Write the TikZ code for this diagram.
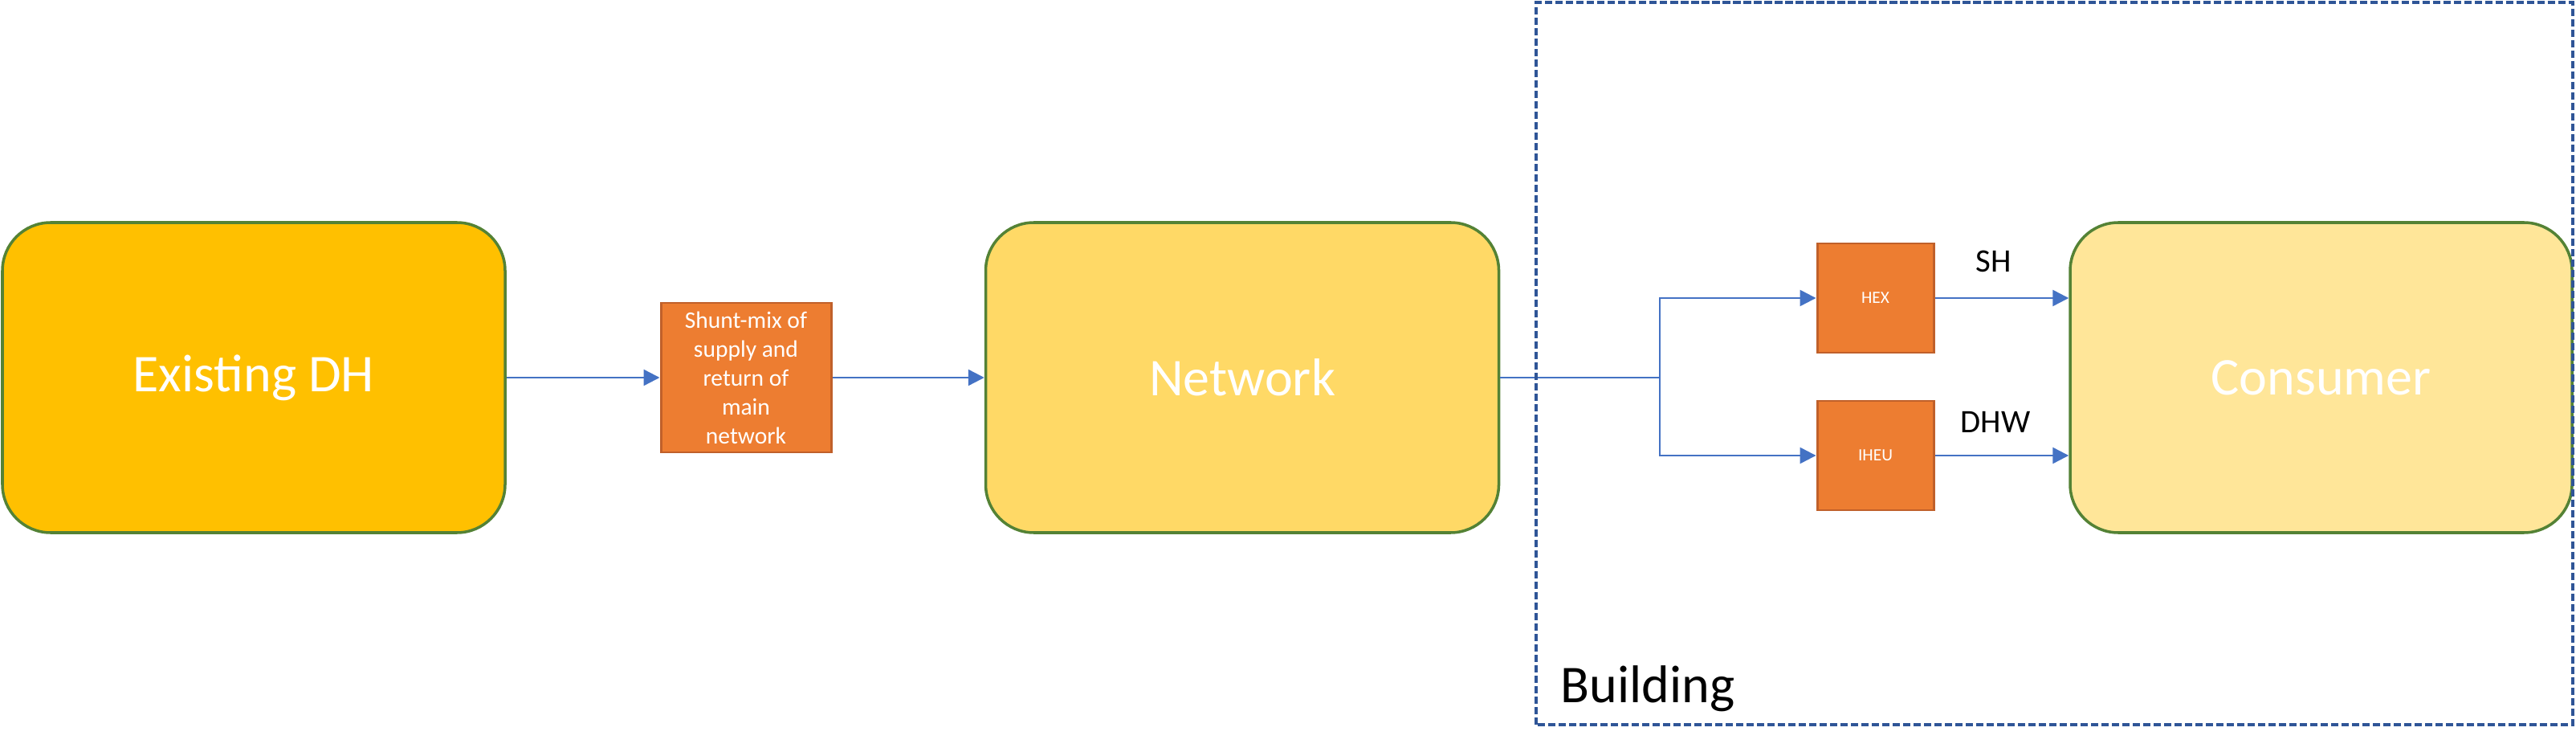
\documentclass[tikz,border=0pt]{standalone}
\usepackage{fontspec}
\setmainfont{Carlito}
\usepackage{tikz}
\usetikzlibrary{arrows.meta,positioning}

\definecolor{dhGold}{HTML}{FFC000}
\definecolor{netYellow}{HTML}{FFD966}
\definecolor{consYellow}{HTML}{FFE699}
\definecolor{boxGreen}{HTML}{548235}
\definecolor{unitOrange}{HTML}{ED7D31}
\definecolor{unitEdge}{HTML}{C0602A}
\definecolor{flowBlue}{HTML}{4472C4}
\definecolor{bldgBlue}{HTML}{2F5597}

\begin{document}
\begin{tikzpicture}
  \useasboundingbox (0,0) rectangle (32.08,9.35);
  \coordinate (pDH) at (3.16,4.65);
  \coordinate (pMix) at (9.29,4.65);
  \coordinate (pNet) at (15.47,4.65);
  \coordinate (pCons) at (28.905,4.65);
  \coordinate (pHex) at (23.355,5.64);
  \coordinate (pIheu) at (23.355,3.68);
  \tikzstyle{bigbox} = [rounded corners=0.6cm,draw=boxGreen,line width=1pt,text=white,
    minimum width=6.26cm,minimum height=3.86cm,font=\fontsize{18.8}{22}\selectfont];
  \tikzstyle{unitbox} = [draw=unitEdge,fill=unitOrange,line width=0.85pt,text=white,inner sep=0pt];
  \tikzstyle{flow} = [draw=flowBlue,line width=0.7pt,-{Triangle[length=0.2cm,width=0.2cm]}];
  \tikzstyle{bldg} = [draw=bldgBlue,line width=0.95pt,dash pattern=on 2.6pt off 1.1pt];
  \node[bigbox,fill=dhGold] (nDH) at (pDH) {Existing DH};
  \node[unitbox,minimum width=2.12cm,minimum height=1.86cm,align=center,
    font=\fontsize{8.4}{10.24}\selectfont] (nMix) at (pMix)
    {Shunt-mix of\\supply and\\return of\\main\\network};
  \node[bigbox,fill=netYellow,minimum width=6.39cm] (nNet) at (pNet) {Network};
  \node[bigbox,fill=consYellow,minimum width=6.25cm] (nCons) at (pCons) {Consumer};
  \node[unitbox,minimum width=1.45cm,minimum height=1.36cm,
    font=\fontsize{6.1}{7}\selectfont] (nHex) at (pHex) {HEX};
  \node[unitbox,minimum width=1.45cm,minimum height=1.36cm,
    font=\fontsize{6.1}{7}\selectfont] (nIheu) at (pIheu) {IHEU};
  \coordinate (pJoin) at (20.67,4.65);
  \draw[flow] (nDH) -- (nMix);
  \draw[flow] (nMix) -- (nNet);
  \draw[flow] (nNet.east) -- (pJoin) |- (nHex.west);
  \draw[flow] (pJoin) |- (nIheu.west);
  \draw[flow] (nHex.east) -- (nHex.east -| nCons.west);
  \draw[flow] (nIheu.east) -- (nIheu.east -| nCons.west);
  \node[font=\fontsize{11.6}{14}\selectfont] (tSH) at (24.83,6.10) {SH};
  \node[font=\fontsize{11.6}{14}\selectfont] (tDHW) at (24.85,4.10) {DHW};
  \draw[bldg] (19.13,0.33) rectangle (32.04,9.32);
  \node[anchor=base west,inner sep=0pt,font=\fontsize{18.8}{22}\selectfont] (tBldg) at (19.43,0.61) {Building};
\end{tikzpicture}
\end{document}
